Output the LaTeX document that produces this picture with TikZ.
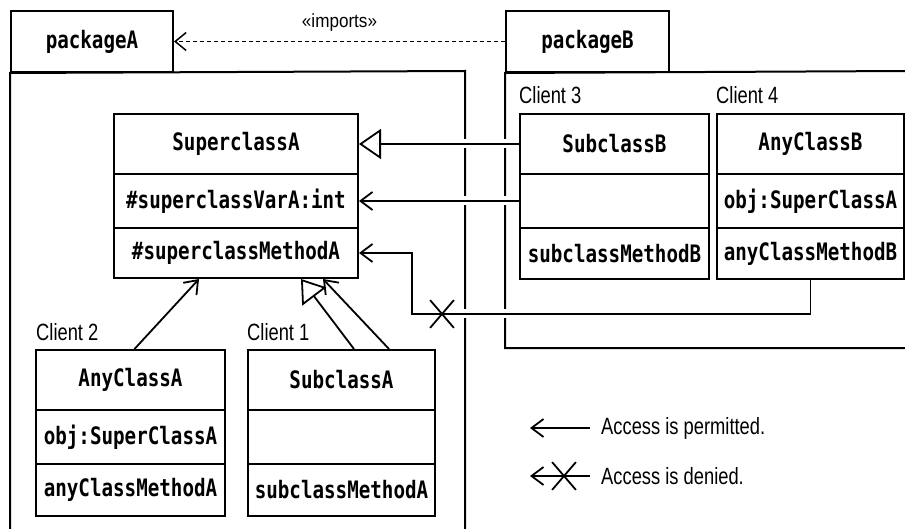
\documentclass[tikz,border=0pt]{standalone}
\usepackage{fontspec}
\usetikzlibrary{arrows.meta,shapes.misc}
\newfontfamily\clsfont{DejaVu Sans Mono}[FakeStretch=0.8]
\newfontfamily\labfont{Liberation Sans}[FakeStretch=0.78]
\newfontfamily\impfont{Liberation Sans}[FakeStretch=0.9]
\pgfdeclarelayer{back}
\pgfdeclarelayer{mid}
\pgfsetlayers{back,mid,main}
\begin{document}
\begin{tikzpicture}[x=1pt,y=-1pt,
  comp/.style={draw, line width=2pt, inner sep=0pt, anchor=north west,
    font=\clsfont\bfseries\fontsize{24}{26}\selectfont},
  pkg/.style={comp},
  pkgline/.style={line width=2pt},
  lab/.style={inner sep=0pt, anchor=west, font=\labfont\fontsize{23.5}{25}\selectfont},
  acc/.style={line width=1.8pt, -{Straight Barb[length=12pt,width=18pt]}},
  gen/.style={line width=1.8pt, -{Triangle[open,length=22pt,width=30pt]}},
  gap/.style={preaction={draw=white, line width=9pt, -}},
  crossx/.style={draw, cross out, line width=1.8pt, inner sep=0pt, minimum width=22pt, minimum height=26pt}
]
\useasboundingbox (0,0) rectangle (905,529);
% packages
\node[pkg, minimum width=162pt, minimum height=61pt] (pkgA) at (10,10) {packageA};
\node[pkg, minimum width=163pt, minimum height=61pt] (pkgB) at (505,10) {packageB};
\begin{pgfonlayer}{back}
\draw[pkgline] (10,531) -- (pkgA.south west) -- (465,71) -- (465,531);
\draw[pkgline] (907,71) -- (pkgB.south west) -- (505,348) -- (907,348);
\end{pgfonlayer}
% SuperclassA
\node[comp, minimum width=244pt, minimum height=60pt] (supA1) at (113,113) {SuperclassA};
\node[comp, minimum width=244pt, minimum height=54pt] (supA2) at (113,173) {\#superclassVarA:int};
\node[comp, minimum width=244pt, minimum height=50pt] (supA3) at (113,227) {\#superclassMethodA};
% SubclassB
\node[comp, minimum width=189pt, minimum height=60pt] (subB1) at (519,113) {SubclassB};
\node[comp, minimum width=189pt, minimum height=54pt] (subB2) at (519,173) {};
\node[comp, minimum width=189pt, minimum height=51pt] (subB3) at (519,227) {subclassMethodB};
% AnyClassB
\node[comp, minimum width=187pt, minimum height=60pt] (anyB1) at (716,113) {AnyClassB};
\node[comp, minimum width=187pt, minimum height=54pt] (anyB2) at (716,173) {obj:SuperClassA};
\node[comp, minimum width=187pt, minimum height=51pt] (anyB3) at (716,227) {anyClassMethodB};
% AnyClassA
\node[comp, minimum width=189pt, minimum height=60pt] (anyA1) at (35,349) {AnyClassA};
\node[comp, minimum width=189pt, minimum height=54pt] (anyA2) at (35,409) {obj:SuperClassA};
\node[comp, minimum width=189pt, minimum height=52pt] (anyA3) at (35,463) {anyClassMethodA};
% SubclassA
\node[comp, minimum width=187pt, minimum height=60pt] (subA1) at (247,349) {SubclassA};
\node[comp, minimum width=187pt, minimum height=54pt] (subA2) at (247,409) {};
\node[comp, minimum width=187pt, minimum height=52pt] (subA3) at (247,463) {subclassMethodA};
% client labels
\node[lab] (c3) at (519,95) {Client 3};
\node[lab] (c4) at (716,95) {Client 4};
\node[lab] (c2) at (36,332) {Client 2};
\node[lab] (c1) at (247,332) {Client 1};
% imports
\draw[line width=1.5pt, dash pattern=on 4pt off 3pt, -{Straight Barb[length=11pt,width=18pt]}]
  (pkgB.west) -- (pkgA.east)
  node[midway, yshift=19pt, inner sep=0pt, font=\impfont\fontsize{19}{21}\selectfont] (imp) {«imports»};
% connectors
\coordinate (bend) at (412,314);
\begin{pgfonlayer}{mid}
\draw[gen, gap] (subB1.west) -- (supA1.east);
\draw[acc, gap] (subB2.west) -- (supA2.east);
\draw[acc, gap] (anyB3.south) |- (bend) |- (supA3.east);
\draw[acc] ([xshift=4pt]anyA1.north) -- ([xshift=-37pt]supA3.south);
\draw[gen] ([xshift=12.5pt]subA1.north) -- ([xshift=65pt]supA3.south);
\draw[acc] ([xshift=47.5pt]subA1.north) -- ([xshift=87pt]supA3.south);
\end{pgfonlayer}
\node[crossx] (x1) at (442,314) {};
% legend
\coordinate (l1a) at (590,428);
\coordinate (l1b) at (530,428);
\coordinate (l2a) at (590,476);
\coordinate (l2b) at (530,476);
\draw[acc] (l1a) -- (l1b);
\draw[acc] (l2a) -- (l2b);
\node[crossx] (x2) at (564,476) {};
\node[lab] (t1) at (601,428) {Access is permitted.};
\node[lab] (t2) at (601,476) {Access is denied.};
\end{tikzpicture}
\end{document}
